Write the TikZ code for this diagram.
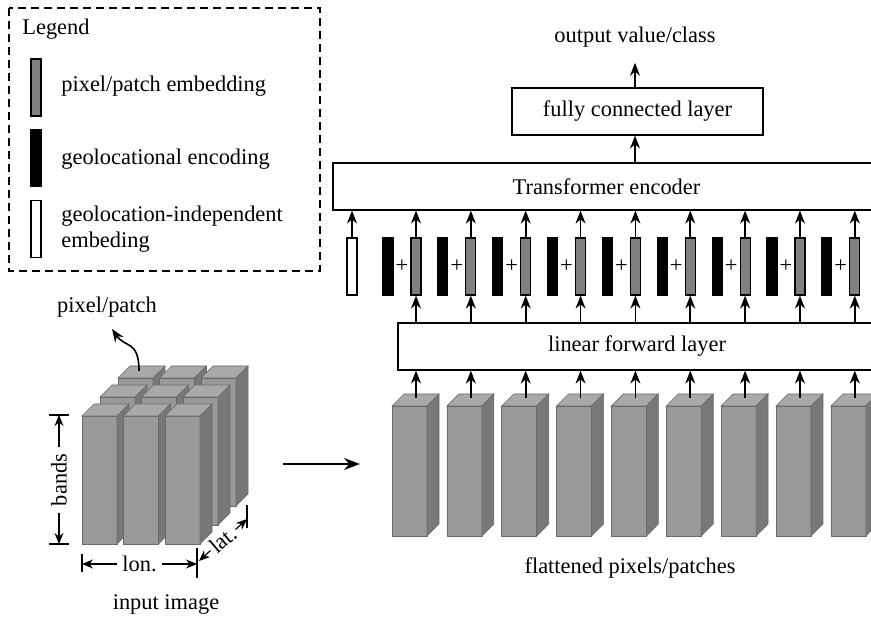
\documentclass[tikz,border=0pt]{standalone}
\usepackage{fontspec}
\setmainfont{Liberation Serif}
\usetikzlibrary{arrows.meta}
\definecolor{tokgray}{HTML}{808080}
\definecolor{frontgray}{HTML}{999999}
\definecolor{sidegray}{HTML}{787878}
\definecolor{topgray}{HTML}{A9A9A9}
\definecolor{edgegray}{HTML}{6A6A6A}
\tikzstyle{layer} = [rectangle, minimum height=23.5pt, text centered, draw=black, line width=0.6pt, fill=white]
\tikzstyle{token} = [rectangle, minimum width=5pt, minimum height=28.5pt, inner sep=0pt, draw=black, line width=0.6pt]
\tikzstyle{geotoken} = [token, fill=black]
\tikzstyle{embtoken} = [token, fill=tokgray]
\tikzstyle{freetoken} = [token, fill=white]
\tikzstyle{legtext} = [anchor=base west, inner sep=0pt]
\tikzstyle{arrow} = [line width=0.8pt, -{Stealth[length=6.5pt,width=5pt]}]
\tikzstyle{dimarrow} = [line width=0.6pt, -{Stealth[length=5.5pt,width=4.5pt]}]
\tikzstyle{tick} = [line width=0.6pt]
% 3d bar: x, y of front top-left corner, width, height
\newcommand{\prism}[4]{%
  \filldraw[fill=frontgray, draw=edgegray, line width=0.3pt] (#1,#2) rectangle ++(#3,#4);
  \filldraw[fill=topgray, draw=edgegray, line width=0.3pt] (#1,#2) -- ++(12,-12) -- ++(#3,0) -- ++(-12,12) -- cycle;
  \filldraw[fill=sidegray, draw=edgegray, line width=0.3pt] (#1+#3,#2) -- ++(12,-12) -- ++(0,#4) -- ++(-12,12) -- cycle;
}

\begin{document}
\begin{tikzpicture}[x=0.5pt, y=-0.5pt, font=\fontsize{11.2}{13.4}\selectfont]
		\useasboundingbox (0,0) rectangle (871,619);
		
		% legend
		\draw[line width=0.6pt, dash pattern=on 4pt off 2.5pt] (9,8) rectangle (320,271);
		\node (legtitle) [legtext] at (22,35) {Legend};
		\node (legemb) [embtoken] at (36,87.5) {};
		\node (legembtxt) [legtext] at (61,92) {pixel/patch embedding};
		\node (leggeo) [geotoken] at (36,158) {};
		\node (leggeotxt) [legtext] at (61,165) {geolocational encoding};
		\node (legfree) [freetoken] at (36,229) {};
		\node (legfreetxt) [legtext] at (61,222) {geolocation-independent};
		\node (legfreetxt2) [legtext] at (61,248) {embeding};
		
		% input image
		\foreach \r in {2,1,0}
			\foreach \c in {0,1,2}
				\prism{82+18*\r+41.5*\c}{416-19*\r}{35}{128};
		\node (pixlab) [anchor=base] at (107,313) {pixel/patch};
		\coordinate (pixtop) at (139,371);
		\draw [arrow] (pixtop) .. controls (139,340) and (125,348) .. (112,329);
		
		\coordinate (bandtop) at (59,415);
		\coordinate (bandbot) at (59,544);
		\draw [tick] ([xshift=-5pt]bandtop) -- ([xshift=5pt]bandtop);
		\draw [tick] ([xshift=-5pt]bandbot) -- ([xshift=5pt]bandbot);
		\node (bands) [rotate=90] at (59,480) {bands};
		\draw [dimarrow] (bands.east) -- (bandtop);
		\draw [dimarrow] (bands.west) -- (bandbot);
		
		\coordinate (lonl) at (82,564);
		\coordinate (lonr) at (197,564);
		\draw [tick] ([yshift=5pt]lonl) -- ([yshift=-4pt]lonl);
		\draw [tick] ([yshift=8pt]lonr) -- ([yshift=-7pt]lonr);
		\node (lon) [inner sep=2.5pt] at (139.5,564) {lon.};
		\draw [dimarrow] (lon.west) -- (lonl);
		\draw [dimarrow] (lon.east) -- (lonr);
		
		\coordinate (latl) at (199,561);
		\coordinate (latr) at (247,519);
		\draw [tick] ([yshift=7pt]latr) -- ([yshift=-4.5pt]latr);
		\node (lat) [rotate=40, inner sep=1pt] at (223,540) {lat.};
		\draw [dimarrow] (lat.west) -- (latl);
		\draw [dimarrow] (lat.east) -- (latr);
		
		\node (inlab) [anchor=base] at (166,609) {input image};
		
		\coordinate (imgout) at (283,464);
		\coordinate (flatin) at (360,464);
		\draw [line width=1pt, -{Stealth[length=8pt,width=6pt]}] (imgout) -- (flatin);
		
		% model
		\node (trans) [layer, minimum width=273.5pt] at (606.5,186.5) {Transformer encoder};
		\node (fc) [layer, minimum width=125.5pt] at (637.5,111.5) {fully connected layer};
		\node (out) [anchor=base] at (635,43) {output value/class};
		\node (lin) [layer, minimum width=239pt] at (637,346.5) {linear forward layer};
		\draw [arrow] (trans.north -| out) -- (fc.south -| out);
		\draw [arrow, shorten >=4pt] (fc.north -| out) -- (out.south);
		
		\node (free) [freetoken] at (352,266.5) {};
		\draw [arrow] (free.north) -- (free.north |- trans.south);
		\foreach \i in {0,...,8} {
			\pgfmathsetmacro{\tx}{416+54.85*\i}
			\node (emb\i) [embtoken] at (\tx,266.5) {};
			\node (geo\i) [geotoken] at (\tx-28,266.5) {};
			\node (plus\i) at (\tx-14,266.5) {+};
			\draw [arrow] (emb\i.north) -- (emb\i.north |- trans.south);
			\draw [arrow] (emb\i.south |- lin.north) -- (emb\i.south);
			\prism{\tx-24}{406}{35}{130};
			\coordinate (blk\i) at (\tx,398);
			\draw [arrow] (blk\i) -- (blk\i |- lin.south);
		}
		\node (flatlab) [anchor=base] at (630,573) {flattened pixels/patches};
		\end{tikzpicture}
\end{document}
